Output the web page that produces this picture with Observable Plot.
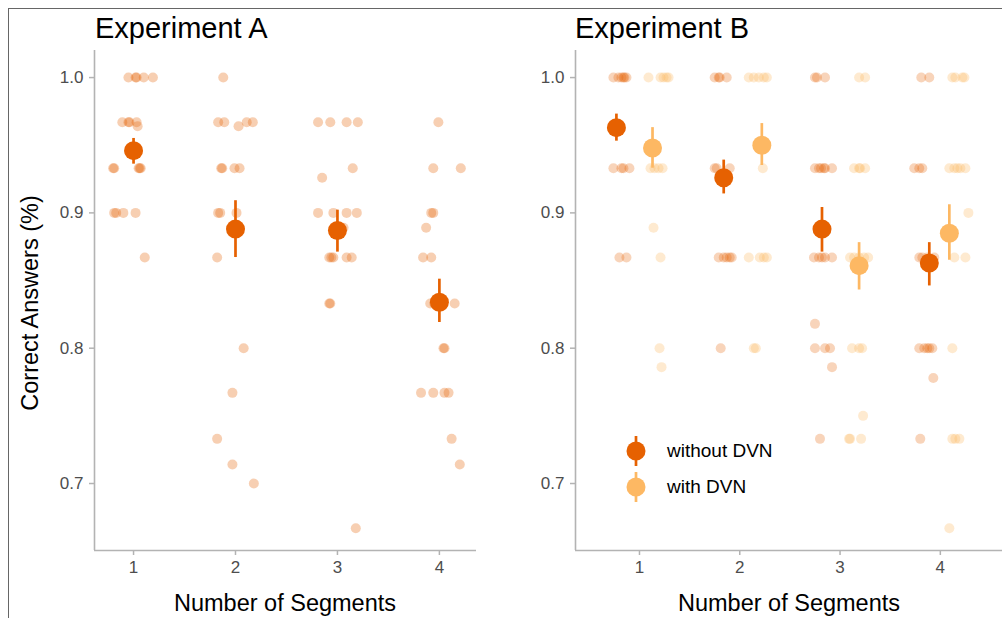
<!DOCTYPE html>
<html><head><meta charset="utf-8">
<script src="https://cdn.jsdelivr.net/npm/d3@7"></script>
<script src="https://cdn.jsdelivr.net/npm/@observablehq/plot@0.6"></script>
<style>
html,body{margin:0;padding:0;background:#fff;}
#wrap{position:relative;width:1002px;height:618px;overflow:hidden;font-family:"Liberation Sans",Arial,sans-serif;}
.frame{position:absolute;left:8px;top:8px;width:1100px;height:700px;border-left:1px solid #666;border-top:1px solid #666;}
.panel{position:absolute;top:0;}
.title{position:absolute;font-size:29px;color:#000;white-space:nowrap;line-height:1;}
.xlab{position:absolute;font-size:23.5px;color:#000;white-space:nowrap;transform:translateX(-50%);line-height:1;}
.ylab{position:absolute;font-size:23.5px;color:#000;white-space:nowrap;transform:translate(-50%,-50%) rotate(-90deg);line-height:1;}
.leg{position:absolute;font-size:19px;color:#000;white-space:nowrap;display:flex;align-items:center;}
</style>
</head><body>
<div id="wrap"><div class="frame"></div></div>
<script>
// ---------- data ----------
const segments = [1, 2, 3, 4];
const yTicks = [0.7, 0.8, 0.9, 1.0];
const panelTitles = ["Experiment A", "Experiment B"];
const xTitle = "Number of Segments";
const yTitle = "Correct Answers (%)";
const legendLabels = ["without DVN", "with DVN"];
const colors = ["#e66101", "#fdb863"];

// Experiment A: individual (jittered segment, accuracy)
const aPoints = [
  [0.95,1.0],[1.02,1.0],[1.03,1.0],[1.10,1.0],[1.19,1.0],
  [0.89,0.967],[0.95,0.967],[0.96,0.967],[1.03,0.967],[1.04,0.964],
  [0.80,0.933],[0.81,0.933],[1.05,0.933],[1.06,0.933],[1.07,0.933],
  [0.81,0.9],[0.83,0.9],[0.90,0.9],[1.02,0.9],[1.11,0.867],
  [1.88,1.0],[1.83,0.967],[1.89,0.967],[2.11,0.967],[2.17,0.967],[2.03,0.964],
  [1.86,0.933],[1.87,0.933],[1.99,0.933],[2.04,0.933],
  [1.83,0.9],[1.85,0.9],[2.01,0.9],[1.82,0.867],[2.08,0.8],[1.97,0.767],
  [1.82,0.733],[1.97,0.714],[2.18,0.7],
  [2.81,0.967],[2.93,0.967],[3.09,0.967],[3.20,0.967],[2.85,0.926],[3.15,0.933],
  [2.81,0.9],[2.96,0.9],[3.09,0.9],[3.19,0.9],[3.06,0.889],
  [2.92,0.867],[2.94,0.867],[2.96,0.867],[3.09,0.867],[3.14,0.867],
  [2.92,0.833],[2.93,0.833],[3.18,0.667],
  [3.99,0.967],[3.94,0.933],[4.21,0.933],[3.92,0.9],[3.94,0.9],[3.87,0.889],
  [3.84,0.867],[3.92,0.867],[3.91,0.833],[3.95,0.833],[4.15,0.833],
  [4.04,0.8],[4.05,0.8],[3.82,0.767],[3.94,0.767],[4.05,0.767],[4.09,0.767],
  [4.12,0.733],[4.20,0.714]
];
const aMeanX = [1, 2, 3, 4];
const aMean = [0.946, 0.888, 0.887, 0.834];
const aLow  = [0.936, 0.867, 0.871, 0.819];
const aHigh = [0.955, 0.909, 0.902, 0.851];

// Experiment B: without DVN
const bWithoutPoints = [
  [0.74,1.0],[0.79,1.0],[0.82,1.0],[0.84,1.0],[0.85,1.0],[0.87,1.0],
  [1.75,1.0],[1.79,1.0],[1.80,1.0],[1.87,1.0],[2.75,1.0],[2.77,1.0],[2.85,1.0],[3.81,1.0],[3.89,1.0],
  [0.74,0.933],[0.82,0.933],[0.84,0.933],[0.90,0.933],[1.75,0.933],[1.77,0.933],[1.90,0.933],
  [2.75,0.933],[2.79,0.933],[2.81,0.933],[2.84,0.933],[2.85,0.933],[2.92,0.933],
  [3.74,0.933],[3.79,0.933],[3.82,0.933],
  [0.80,0.867],[0.87,0.867],[1.79,0.867],[1.84,0.867],[1.87,0.867],[1.90,0.867],[1.92,0.867],
  [2.74,0.867],[2.79,0.867],[2.82,0.867],[2.85,0.867],[2.92,0.867],
  [3.79,0.867],[3.82,0.867],[3.87,0.867],[3.94,0.867],
  [2.75,0.818],[1.81,0.8],[2.75,0.8],[2.85,0.8],[2.90,0.8],
  [3.79,0.8],[3.84,0.8],[3.87,0.8],[3.89,0.8],[3.92,0.8],
  [2.92,0.786],[3.93,0.778],[2.80,0.733],[3.80,0.733]
];
// Experiment B: with DVN
const bWithPoints = [
  [1.09,1.0],[1.21,1.0],[1.24,1.0],[1.27,1.0],[1.29,1.0],
  [2.09,1.0],[2.14,1.0],[2.19,1.0],[2.24,1.0],[2.27,1.0],[3.19,1.0],[3.25,1.0],
  [4.12,1.0],[4.15,1.0],[4.22,1.0],[4.24,1.0],
  [1.11,0.933],[1.15,0.933],[1.19,0.933],[1.23,0.933],[2.23,0.933],
  [3.14,0.933],[3.19,0.933],[3.20,0.933],[3.25,0.933],
  [4.09,0.933],[4.14,0.933],[4.17,0.933],[4.20,0.933],[4.25,0.933],
  [4.28,0.9],[1.14,0.889],
  [1.21,0.867],[2.09,0.867],[2.20,0.867],[2.24,0.867],[2.27,0.867],
  [3.10,0.867],[3.14,0.867],[3.19,0.867],[3.24,0.867],[3.28,0.867],[4.14,0.867],[4.25,0.867],
  [1.20,0.8],[2.14,0.8],[2.16,0.8],[3.12,0.8],[3.19,0.8],[3.22,0.8],[4.12,0.8],
  [1.22,0.786],[3.23,0.75],
  [3.09,0.733],[3.10,0.733],[3.21,0.733],[4.12,0.733],[4.15,0.733],[4.19,0.733],
  [4.09,0.667]
];
const bWithoutMeanX = [0.77, 1.84, 2.82, 3.89];
const bWithoutMean  = [0.963, 0.926, 0.888, 0.863];
const bWithoutLow   = [0.953, 0.914, 0.871, 0.846];
const bWithoutHigh  = [0.973, 0.939, 0.904, 0.878];
const bWithMeanX = [1.13, 2.22, 3.19, 4.09];
const bWithMean  = [0.948, 0.950, 0.861, 0.885];
const bWithLow   = [0.933, 0.935, 0.843, 0.865];
const bWithHigh  = [0.963, 0.966, 0.878, 0.906];

// ---------- build ----------
const yDomain = [0.6505, 1.02];
const table = (xs, m, lo, hi) => xs.map((x, i) => ({x, mean: m[i], lo: lo[i], hi: hi[i]}));

function makePanel({width, marginLeft, marginRight, xDomain, points, means}) {
  const axisColor = "#b3b3b3";
  const marks = [
    Plot.ruleX([xDomain[0]], {stroke: axisColor, strokeWidth: 1.6}),
    Plot.ruleY([yDomain[0]], {stroke: axisColor, strokeWidth: 1.6}),
    Plot.axisY({ticks: yTicks, tickFormat: d => d.toFixed(1), tickSize: 5, tickPadding: 6,
      fontSize: 17, stroke: axisColor, strokeWidth: 1.5, fill: "#4d4d4d", label: null}),
    Plot.axisX({ticks: segments, tickFormat: d => String(d), tickSize: 5, tickPadding: 5,
      fontSize: 17, stroke: axisColor, strokeWidth: 1.5, fill: "#4d4d4d", label: null})
  ];
  for (const s of points) {
    marks.push(Plot.dot(s.data, {x: d => d[0], y: d => d[1], r: 5, fill: s.color,
      fillOpacity: s.opacity, stroke: "none"}));
  }
  for (const m of means) {
    marks.push(Plot.ruleX(m.data, {x: "x", y1: "lo", y2: "hi", stroke: m.color, strokeWidth: 2.7}));
    marks.push(Plot.dot(m.data, {x: "x", y: "mean", r: 9.5, fill: m.color, stroke: "none"}));
  }
  return Plot.plot({
    width, height: 618, marginLeft, marginRight, marginTop: 50, marginBottom: 68,
    style: {fontFamily: "Liberation Sans, Arial, sans-serif", background: "transparent", overflow: "visible"},
    x: {domain: xDomain},
    y: {domain: yDomain},
    marks
  });
}

const wrap = document.getElementById("wrap");

const pA = makePanel({
  width: 480, marginLeft: 94, marginRight: 4, xDomain: [0.617, 4.364],
  points: [{data: aPoints, color: colors[0], opacity: 0.3}],
  means: [{data: table(aMeanX, aMean, aLow, aHigh), color: colors[0]}]
});
const pB = makePanel({
  width: 522, marginLeft: 95, marginRight: 0, xDomain: [0.362, 4.62],
  points: [{data: bWithoutPoints, color: colors[0], opacity: 0.27},
           {data: bWithPoints, color: colors[1], opacity: 0.3}],
  means: [{data: table(bWithoutMeanX, bWithoutMean, bWithoutLow, bWithoutHigh), color: colors[0]},
          {data: table(bWithMeanX, bWithMean, bWithLow, bWithHigh), color: colors[1]}]
});

function place(el, left) {
  const d = document.createElement("div");
  d.className = "panel"; d.style.left = left + "px";
  d.appendChild(el); wrap.appendChild(d);
}
place(pA, 0);
place(pB, 480);

function addText(cls, text, css) {
  const d = document.createElement("div");
  d.className = cls; d.textContent = text;
  Object.assign(d.style, css);
  wrap.appendChild(d);
  return d;
}
addText("title", panelTitles[0], {left: "95px", top: "14px"});
addText("title", panelTitles[1], {left: "575px", top: "14px"});
addText("xlab", xTitle, {left: "285px", top: "592px"});
addText("xlab", xTitle, {left: "789px", top: "592px"});
addText("ylab", yTitle, {left: "31px", top: "303px"});

// legend
legendLabels.forEach((lab, i) => {
  const d = document.createElement("div");
  d.className = "leg";
  d.style.left = "625px";
  d.style.top = (436 + i * 36) + "px";
  const ns = "http://www.w3.org/2000/svg";
  const svg = document.createElementNS(ns, "svg");
  svg.setAttribute("width", 24); svg.setAttribute("height", 30);
  const line = document.createElementNS(ns, "line");
  line.setAttribute("x1", 11); line.setAttribute("x2", 11);
  line.setAttribute("y1", 0); line.setAttribute("y2", 30);
  line.setAttribute("stroke", colors[i]); line.setAttribute("stroke-width", 2.7);
  const c = document.createElementNS(ns, "circle");
  c.setAttribute("cx", 11); c.setAttribute("cy", 15); c.setAttribute("r", 9.5);
  c.setAttribute("fill", colors[i]);
  svg.appendChild(line); svg.appendChild(c);
  const t = document.createElement("span");
  t.textContent = lab; t.style.marginLeft = "18px";
  d.appendChild(svg); d.appendChild(t);
  wrap.appendChild(d);
});
</script>
</body></html>
